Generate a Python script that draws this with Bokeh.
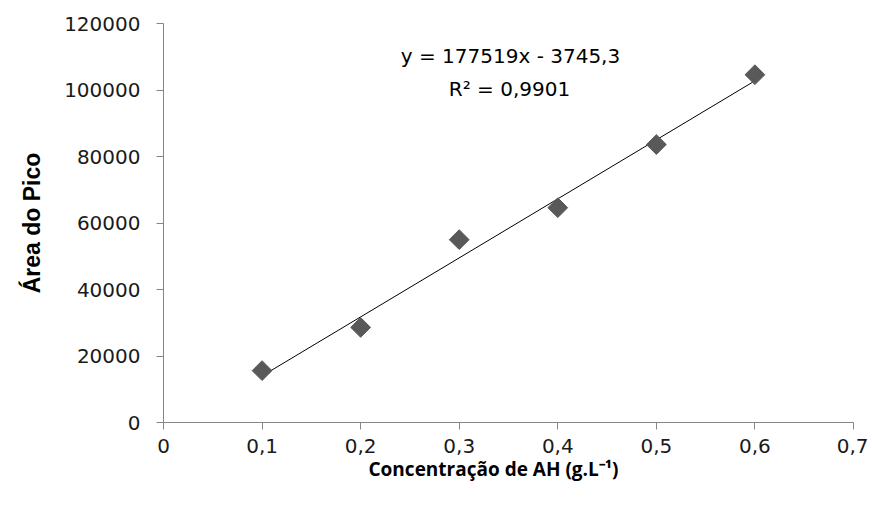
import numpy as np
from bokeh.plotting import figure
from bokeh.models import Range1d, FixedTicker, CustomJSTickFormatter, Label, Title
from bokeh.embed import file_html
from bokeh.resources import INLINE

# Data
conc = [0.1, 0.2, 0.3, 0.4, 0.5, 0.6]
area = [15600, 28600, 55000, 64600, 83600, 104600]
slope = 177519
intercept = -3745.3
x_ticks = [0, 0.1, 0.2, 0.3, 0.4, 0.5, 0.6, 0.7]
y_ticks = [0, 20000, 40000, 60000, 80000, 100000, 120000]
eq_text = "y = 177519x - 3745,3"
r2_text = "R² = 0,9901"
x_title = "Concentração de AH (g.L⁻¹)"
y_title = "Área do Pico"

TICK_FONT = "DejaVu Sans"
AXIS_GREY = "#868686"

p = figure(width=868, height=497, output_backend="svg", toolbar_location=None,
           x_range=Range1d(0, 0.7), y_range=Range1d(0, 120000),
           min_border_left=163, min_border_right=15, min_border_top=23, min_border_bottom=75)
p.outline_line_color = None
p.xgrid.visible = False
p.ygrid.visible = False

# trendline
tx = np.array([min(conc), max(conc)])
ty = slope * tx + intercept
p.line(tx, ty, line_color="#000000", line_width=1)

# markers
p.scatter(conc, area, marker="square", angle=np.pi / 4, size=14,
          fill_color="#595959", line_color="#595959")

for ax in (p.xaxis[0], p.yaxis[0]):
    ax.axis_line_color = AXIS_GREY
    ax.major_tick_line_color = AXIS_GREY
    ax.minor_tick_line_color = None
    ax.major_tick_in = 0
    ax.major_tick_out = 7
    ax.major_label_text_font = TICK_FONT
    ax.major_label_text_font_size = "20px"
    ax.major_label_text_color = "#1a1a1a"
    ax.axis_label_text_font_style = "bold"
    ax.axis_label_text_color = "#000000"

p.yaxis.axis_label_text_font = "Liberation Sans"
p.yaxis.axis_label_text_font_size = "23px"

p.xaxis.ticker = FixedTicker(ticks=x_ticks)
p.xaxis.formatter = CustomJSTickFormatter(
    code="return tick == 0 ? '0' : tick.toFixed(1).replace('.', ',');")
p.yaxis.ticker = FixedTicker(ticks=y_ticks)
p.yaxis.formatter = CustomJSTickFormatter(code="return tick.toFixed(0);")
p.yaxis.axis_label = y_title
p.xaxis.major_label_standoff = 9
p.xaxis.axis_label_standoff = 0
p.yaxis.major_label_standoff = 16
p.yaxis.axis_label_standoff = 16

# x-axis title (slightly left of the frame centre, as in the reference)
xt = Title(text=x_title, align="left", offset=205, standoff=0, vertical_align="top",
           text_font="Open Sans", text_font_style="bold", text_font_size="19px",
           text_color="#000000")
p.add_layout(xt, "below")

p.add_layout(Label(x=347, y=367, x_units="screen", y_units="screen", text=eq_text,
                   text_font=TICK_FONT, text_font_size="20px", text_color="#000000",
                   text_align="center", text_baseline="middle"))
p.add_layout(Label(x=346, y=334, x_units="screen", y_units="screen", text=r2_text,
                   text_font=TICK_FONT, text_font_size="20px", text_color="#000000",
                   text_align="center", text_baseline="middle"))

open("out.html", "w").write(file_html(p, INLINE))
